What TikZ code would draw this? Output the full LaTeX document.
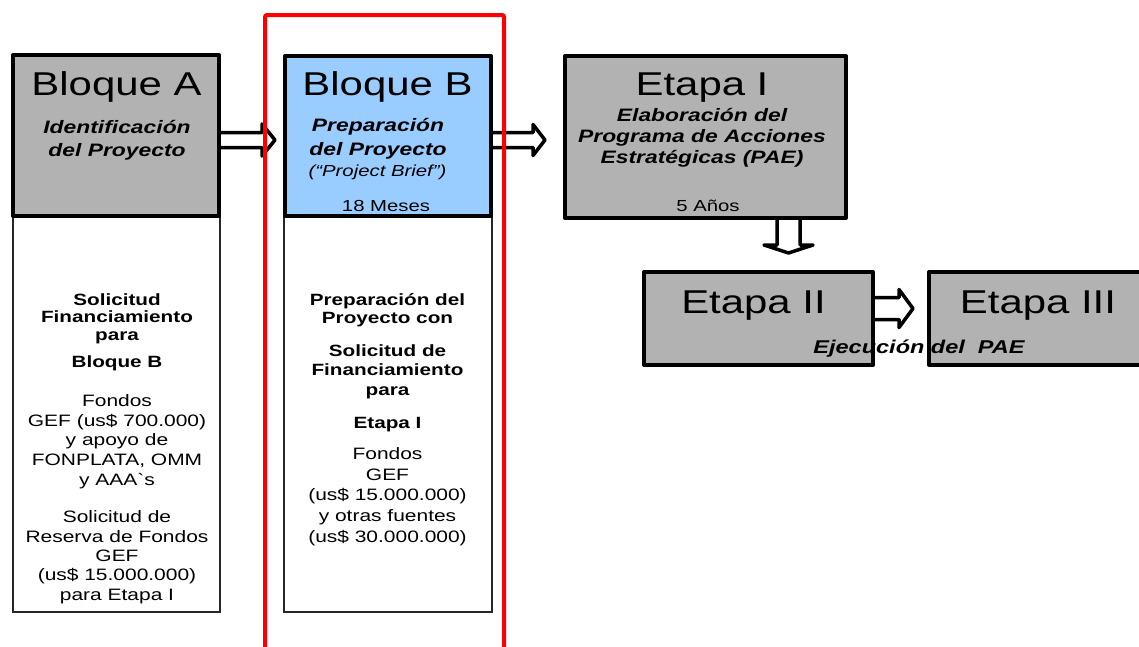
\documentclass[tikz,border=0pt]{standalone}
\usepackage{fontspec}
\setmainfont{Liberation Sans}[FakeStretch=1.27, Ligatures=TeXOff]
\usetikzlibrary{calc}
\definecolor{boxgray}{HTML}{B2B2B2}
\definecolor{boxblue}{HTML}{99CCFF}
% multi-line nodes are placed by the baseline of their last line
\tikzset{
  hdr/.style={draw=black, line width=4pt, fill=boxgray, rectangle, inner sep=0pt, line join=round},
  body/.style={draw=black!85, line width=1.3pt, fill=white, rectangle, inner sep=0pt},
  ttl/.style={anchor=base, inner sep=0pt, font=\fontsize{33}{38}\selectfont},
  sub/.style={anchor=base, inner sep=0pt, align=center, font=\bfseries\itshape\fontsize{18}{23.5}\selectfont},
  txt/.style={anchor=base, inner sep=0pt, align=center, font=\fontsize{16.5}{19.6}\selectfont},
  btxt/.style={anchor=base, inner sep=0pt, align=center, font=\bfseries\fontsize{16.3}{17.5}\selectfont},
  barrow/.style={draw=black, fill=white, line width=3.5pt, line join=round},
  frame/.style={draw=red, line width=4pt, rounded corners=2pt}
}
\begin{document}
\begin{tikzpicture}[x=1pt, y=-1pt]
\clip (0,0) rectangle (1139,646);

% lower description boxes
\node[body, minimum width=207pt, minimum height=396pt] (Ab) at (116.5,414) {};
\node[body, minimum width=208pt, minimum height=396pt] (Bb) at (388,414) {};

% header boxes
\node[hdr, minimum width=206pt, minimum height=161pt] (A) at (116,135.5) {};
\node[hdr, fill=boxblue, minimum width=206pt, minimum height=160pt] (B) at (388,136) {};
\node[hdr, minimum width=281pt, minimum height=162pt] (E1) at (705.5,137) {};
\node[hdr, minimum width=229pt, minimum height=93pt] (E2) at (758.5,318.5) {};
\node[hdr, minimum width=231pt, minimum height=93pt] (E3) at (1044.5,318.5) {};

% hollow block arrows
\draw[barrow] ($(A.east)+(0,-3)$) -- ++(41,0) -- ++(0,-8.5) -- ++(13,16) -- ++(-13,16) -- ++(0,-8.5) -- ++(-41,0);
\draw[barrow] ($(B.east)+(0,-3.5)$) -- ++(40,0) -- ++(0,-8) -- ++(12,15.5) -- ++(-12,15.5) -- ++(0,-8) -- ++(-40,0);
\draw[barrow] ($(E1.south)+(71.5,0)$) -- ++(0,25) -- ++(-13,0) -- ++(24.5,8) -- ++(24.5,-8) -- ++(-13,0) -- ++(0,-25);
\draw[barrow] ($(E2.east)+(0,-21)$) -- ++(24,0) -- ++(0,-8) -- ++(14,19) -- ++(-14,19) -- ++(0,-8) -- ++(-24,0);

% header texts
\node[ttl] (tA) at (116.5,95) {Bloque A};
\node[sub] (sA) at (117,156.5) {Identificación\\del Proyecto};

\node[ttl] (tB) at (387.5,95) {Bloque B};
\node[sub, font=\bfseries\itshape\fontsize{18}{23.3}\selectfont] (sB) at (378,155) {Preparación\\del Proyecto};
\node[txt, font=\itshape\fontsize{16}{19}\selectfont] (pB) at (377.5,176) {(“Project Brief”)};
\node[txt, font=\fontsize{16}{19}\selectfont] (mB) at (386,211.7) {18 Meses};

\node[ttl] (tE1) at (702,95) {Etapa I};
\node[sub, font=\bfseries\itshape\fontsize{18}{20.8}\selectfont] (sE1) at (702,163.3) {Elaboración del\\Programa de Acciones\\Estratégicas (PAE)};
\node[txt, font=\fontsize{16}{19}\selectfont] (yE1) at (708,211.7) {5 Años};

\node[ttl] (tE2) at (753.5,313.3) {Etapa II};
\node[ttl] (tE3) at (1038,313.3) {Etapa III};
\node[sub, font=\bfseries\itshape\fontsize{18.5}{22}\selectfont] (ej) at (919,353.3) {Ejecución del\ \ PAE};

% description of Bloque A
\node[btxt] (a1) at (117,340) {Solicitud\\Financiamiento\\para};
\node[btxt] (a2) at (117,367) {Bloque B};
\node[txt] (a3) at (117,485) {Fondos\\GEF (us\$ 700.000)\\y apoyo de\\FONPLATA, OMM\\y AAA`s};
\node[txt, font=\fontsize{16.5}{19.3}\selectfont] (a4) at (117,600) {Solicitud de\\Reserva de Fondos\\GEF\\(us\$ 15.000.000)\\para Etapa I};

% description of Bloque B
\node[btxt, font=\bfseries\fontsize{16.3}{18.3}\selectfont] (b1) at (387.5,323.3) {Preparación del\\Proyecto con};
\node[btxt, font=\bfseries\fontsize{16.3}{19.5}\selectfont] (b2) at (387.5,395) {Solicitud de\\Financiamiento\\para};
\node[btxt] (b3) at (387.5,428.3) {Etapa I};
\node[txt, font=\fontsize{16.5}{20.8}\selectfont] (b4) at (387.5,542.5) {Fondos\\GEF\\(us\$ 15.000.000)\\y otras fuentes\\(us\$ 30.000.000)};

% red frame around Bloque B
\draw[frame] (265,660) -- (265,15) -- (504,15) -- (504,660);
\end{tikzpicture}
\end{document}
